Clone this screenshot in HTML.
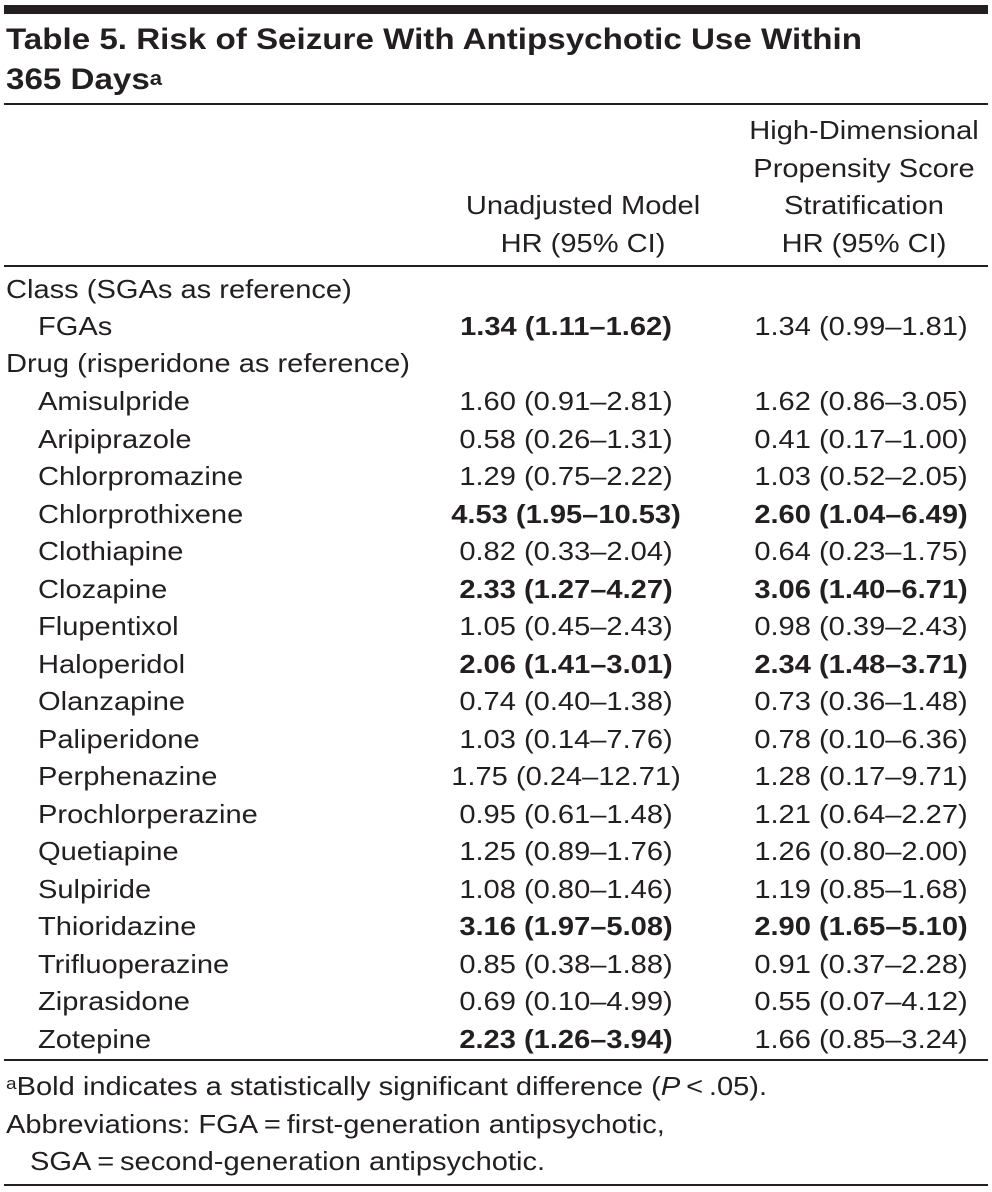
<!DOCTYPE html>
<html><head><meta charset="utf-8"><style>
html,body{margin:0;padding:0;background:#fff;}
body{width:992px;height:1192px;position:relative;overflow:hidden;font-family:"Liberation Sans",sans-serif;color:#231f20;}
.t{position:absolute;white-space:nowrap;font-size:26px;line-height:30px;transform-origin:0 0;}
.b{font-weight:bold;}
.rule{position:absolute;left:4px;width:984px;background:#231f20;}
sup{font-size:17px;vertical-align:top;position:relative;top:-2px;}
.title sup{font-size:20px;top:-1px;font-weight:bold;}
</style></head><body>
<div class="rule" style="top:5px;height:9px"></div>
<div class="t b title" style="left:6px;top:22px;font-size:30px;line-height:36px">Table 5. Risk of Seizure With Antipsychotic Use Within</div>
<div class="t b title" style="left:6px;top:62px;font-size:30px;line-height:36px">365 Days<sup>a</sup></div>
<div class="rule" style="top:103px;height:2px"></div>
<div id="hdr"></div>
<div class="rule" style="top:265px;height:2px"></div>
<div id="rows"></div>
<div class="rule" style="top:1059px;height:2px"></div>
<div class="t" style="left:6px;top:1071px"><sup>a</sup>Bold indicates a statistically significant difference (<i>P</i>&thinsp;&lt;&thinsp;.05).</div>
<div class="t" style="left:6px;top:1109px">Abbreviations: FGA&thinsp;=&thinsp;first-generation antipsychotic,</div>
<div class="t" style="left:30px;top:1146px">SGA&thinsp;=&thinsp;second-generation antipsychotic.</div>
<div class="rule" style="top:1184px;height:2px"></div>
<script>
const labels=["Class (SGAs as reference)","FGAs","Drug (risperidone as reference)","Amisulpride","Aripiprazole","Chlorpromazine","Chlorprothixene","Clothiapine","Clozapine","Flupentixol","Haloperidol","Olanzapine","Paliperidone","Perphenazine","Prochlorperazine","Quetiapine","Sulpiride","Thioridazine","Trifluoperazine","Ziprasidone","Zotepine"];
const unadj=["","1.34 (1.11–1.62)","","1.60 (0.91–2.81)","0.58 (0.26–1.31)","1.29 (0.75–2.22)","4.53 (1.95–10.53)","0.82 (0.33–2.04)","2.33 (1.27–4.27)","1.05 (0.45–2.43)","2.06 (1.41–3.01)","0.74 (0.40–1.38)","1.03 (0.14–7.76)","1.75 (0.24–12.71)","0.95 (0.61–1.48)","1.25 (0.89–1.76)","1.08 (0.80–1.46)","3.16 (1.97–5.08)","0.85 (0.38–1.88)","0.69 (0.10–4.99)","2.23 (1.26–3.94)"];
const hdps=["","1.34 (0.99–1.81)","","1.62 (0.86–3.05)","0.41 (0.17–1.00)","1.03 (0.52–2.05)","2.60 (1.04–6.49)","0.64 (0.23–1.75)","3.06 (1.40–6.71)","0.98 (0.39–2.43)","2.34 (1.48–3.71)","0.73 (0.36–1.48)","0.78 (0.10–6.36)","1.28 (0.17–9.71)","1.21 (0.64–2.27)","1.26 (0.80–2.00)","1.19 (0.85–1.68)","2.90 (1.65–5.10)","0.91 (0.37–2.28)","0.55 (0.07–4.12)","1.66 (0.85–3.24)"];
const boldU=[0,1,0,0,0,0,1,0,1,0,1,0,0,0,0,0,0,1,0,0,1];
const boldH=[0,0,0,0,0,0,1,0,1,0,1,0,0,0,0,0,0,1,0,0,0];
const rows=document.getElementById('rows');
function centerOf(i){return i<3?[289,326,363][i]:401+(i-3)*37.53;}
function mk(txt,x,y,bold,center,name){
  const d=document.createElement('div');
  d.className='t'+(bold?' b':'');
  
  
  d.textContent=txt;d.style.left=x+'px';d.style.top=(y-15)+'px';
  if(center)d.dataset.c='1';
  rows.appendChild(d);return d;
}
labels.forEach((l,i)=>{
  const y=centerOf(i);
  const ind=(i===0||i===2)?6:38;
  mk(l,ind,y,false,false,'row-label');
  if(unadj[i])mk(unadj[i],566,y,boldU[i],true,'unadjusted-hr');
  if(hdps[i])mk(hdps[i],861,y,boldH[i],true,'hdps-hr');
});
const hd=[["High-Dimensional",864,130],["Propensity Score",864,168],["Stratification",864,205],["HR (95% CI)",864,243],["Unadjusted Model",583,205],["HR (95% CI)",583,243]];
hd.forEach(h=>{mk(h[0],h[1],h[2],false,true,'column-header');});
const probe=document.createElement('span');probe.className='t';probe.style.visibility='hidden';probe.textContent='Drug (risperidone as reference)';document.body.appendChild(probe);
const k=404/probe.getBoundingClientRect().width;probe.remove();
const tp=document.createElement('span');tp.className='t b';tp.style.cssText='visibility:hidden;font-size:30px';tp.textContent='Table 5. Risk of Seizure With Antipsychotic Use Within';document.body.appendChild(tp);
const k2=856/tp.getBoundingClientRect().width;tp.remove();
document.querySelectorAll('.t').forEach(e=>{
  const s=e.classList.contains('title')?k2:k;
  e.style.transform='scaleX('+s+')'+(e.dataset.c?' translateX(-50%)':'');
});
</script>
</body></html>
